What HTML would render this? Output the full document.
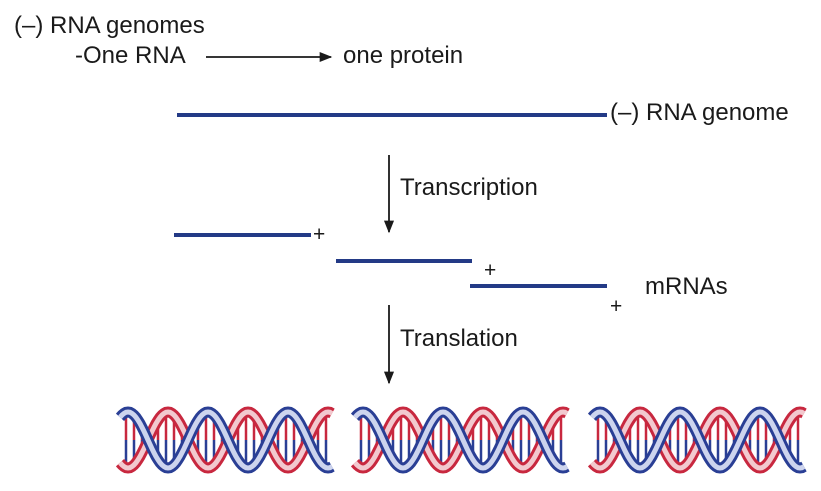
<!DOCTYPE html>
<html><head><meta charset="utf-8"><style>
body{margin:0;background:#fff;width:821px;height:486px;overflow:hidden}
svg text{font-family:"Liberation Sans",sans-serif;font-size:24px;fill:#1a1a1a}
</style></head><body>
<svg id="s" width="821" height="486" viewBox="0 0 821 486">
<defs>
<marker id="ah" viewBox="0 0 10 10" refX="9" refY="5" markerWidth="7" markerHeight="7" orient="auto"><path d="M0,1 L10,5 L0,9 Z" fill="#1a1a1a"/></marker>
</defs>
<text x="14" y="33">(–) RNA genomes</text>
<text x="75" y="63">-One RNA</text>
<line x1="206" y1="57" x2="331" y2="57" stroke="#1a1a1a" stroke-width="1.8" marker-end="url(#ah)"/>
<text x="343" y="63">one protein</text>
<line x1="177" y1="115" x2="607" y2="115" stroke="#233a86" stroke-width="4"/>
<text x="610" y="120">(–) RNA genome</text>
<line x1="389" y1="155" x2="389" y2="232" stroke="#1a1a1a" stroke-width="1.8" marker-end="url(#ah)"/>
<text x="400" y="195">Transcription</text>
<line x1="174" y1="235" x2="311" y2="235" stroke="#233a86" stroke-width="4"/>
<text x="313" y="241" style="font-size:21px">+</text>
<line x1="336" y1="261" x2="472" y2="261" stroke="#233a86" stroke-width="4"/>
<text x="484" y="277" style="font-size:21px">+</text>
<line x1="470" y1="286" x2="607" y2="286" stroke="#233a86" stroke-width="4"/>
<text x="610" y="313" style="font-size:21px">+</text>
<text x="645" y="294">mRNAs</text>
<line x1="389" y1="305" x2="389" y2="383" stroke="#1a1a1a" stroke-width="1.8" marker-end="url(#ah)"/>
<text x="400" y="346">Translation</text>
<g id="helices"></g>
</svg>
<script>
const helixOffsets=[120,355,592];
const NS="http://www.w3.org/2000/svg";
const g=document.getElementById('helices');
const L=212,cy=440,A=28,P=80;
function wave(ph){let d="";for(let x=0;x<=L;x+=2){const y=cy-A*Math.cos(2*Math.PI*(x-ph)/P);d+=(x?"L":"M")+x+","+y.toFixed(1);}return d;}
helixOffsets.forEach((ox,i)=>{
  const h=document.createElementNS(NS,'g');
  h.setAttribute('transform','translate('+ox+',0)');
  
  
  for(let x=6;x<L;x+=8){
    const y1=cy-A*Math.cos(2*Math.PI*(x-8)/P),y2=cy-A*Math.cos(2*Math.PI*(x-48)/P);
    const r=document.createElementNS(NS,'line');
    r.setAttribute('x1',x);r.setAttribute('x2',x);
    r.setAttribute('y1',Math.min(y1,y2));r.setAttribute('y2',(y1+y2)/2);
    r.setAttribute('stroke','#c8283f');r.setAttribute('stroke-width','2.5');
    h.appendChild(r);
    const b=document.createElementNS(NS,'line');
    b.setAttribute('x1',x);b.setAttribute('x2',x);
    b.setAttribute('y1',(y1+y2)/2);b.setAttribute('y2',Math.max(y1,y2));
    b.setAttribute('stroke','#2a3f95');b.setAttribute('stroke-width','2.5');
    h.appendChild(b);
  }
  [['#c8283f',48],['#2a3f95',8]].forEach(([c,ph])=>{
    const o=document.createElementNS(NS,'path');
    o.setAttribute('d',wave(ph));o.setAttribute('fill','none');
    o.setAttribute('stroke',c);o.setAttribute('stroke-width','11');
    h.appendChild(o);
    const p=document.createElementNS(NS,'path');
    p.setAttribute('d',wave(ph));p.setAttribute('fill','none');
    p.setAttribute('stroke',c=='#c8283f'?'#f2c9cf':'#cdd4ee');p.setAttribute('stroke-width','5');
    h.appendChild(p);
  });
  g.appendChild(h);
});
</script>
</body></html>
